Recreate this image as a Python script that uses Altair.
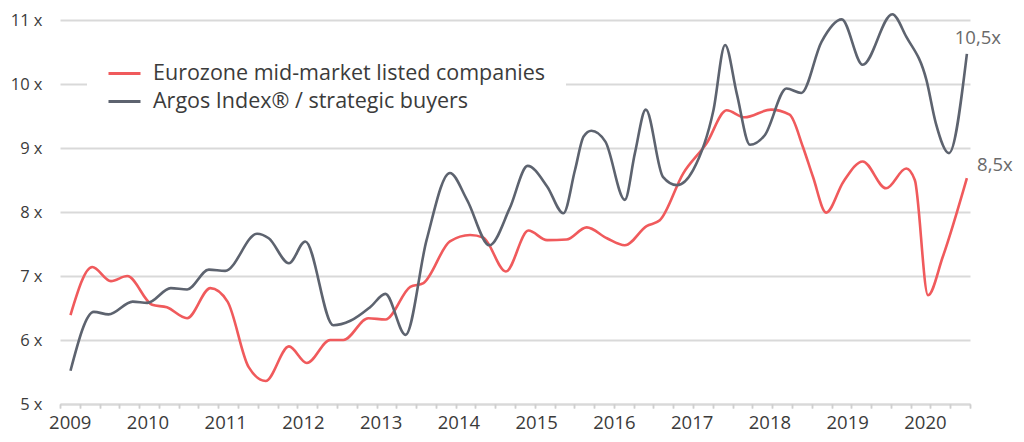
import altair as alt
import pandas as pd
import numpy as np

# ---- data (decimal years, EV/EBITDA multiple) ----
euro_t = [2009.01, 2009.29, 2009.53, 2009.74, 2010.06, 2010.25, 2010.51, 2010.81,
          2011.03, 2011.30, 2011.52, 2011.82, 2012.05, 2012.35, 2012.52, 2012.84,
          2013.06, 2013.38, 2013.55, 2013.89, 2014.15, 2014.32, 2014.61, 2014.90,
          2015.14, 2015.39, 2015.65, 2015.91, 2016.14, 2016.42, 2016.59, 2016.89,
          2017.19, 2017.45, 2017.68, 2018.02, 2018.26, 2018.43, 2018.56, 2018.73,
          2018.95, 2019.20, 2019.50, 2019.76, 2019.87, 2020.04, 2020.23, 2020.54]
euro_v = [6.39, 7.14, 6.92, 7.00, 6.55, 6.51, 6.34, 6.81,
          6.60, 5.58, 5.36, 5.90, 5.64, 6.00, 6.00, 6.34,
          6.32, 6.83, 6.89, 7.54, 7.64, 7.60, 7.07, 7.71,
          7.56, 7.57, 7.76, 7.59, 7.48, 7.78, 7.87, 8.60,
          9.07, 9.59, 9.48, 9.60, 9.52, 9.02, 8.55, 7.99,
          8.47, 8.79, 8.37, 8.68, 8.50, 6.70, 7.30, 8.53]

argos_t = [2009.01, 2009.31, 2009.50, 2009.81, 2010.00, 2010.30, 2010.51, 2010.79,
           2011.00, 2011.41, 2011.56, 2011.82, 2012.03, 2012.39, 2012.61, 2012.87,
           2013.06, 2013.32, 2013.59, 2013.89, 2014.11, 2014.40, 2014.66, 2014.89,
           2015.14, 2015.35, 2015.50, 2015.61, 2015.71, 2015.89, 2016.14, 2016.27,
           2016.41, 2016.63, 2016.81, 2017.02, 2017.28, 2017.43, 2017.58, 2017.75,
           2017.94, 2018.22, 2018.41, 2018.67, 2018.93, 2019.20, 2019.58, 2019.76,
           2020.02, 2020.14, 2020.31, 2020.54]
argos_v = [5.52, 6.44, 6.40, 6.60, 6.58, 6.81, 6.79, 7.10,
           7.08, 7.66, 7.59, 7.20, 7.54, 6.23, 6.30, 6.52,
           6.72, 6.08, 7.56, 8.61, 8.19, 7.48, 8.06, 8.72,
           8.40, 7.98, 8.66, 9.18, 9.27, 9.10, 8.19, 8.92,
           9.60, 8.55, 8.42, 8.66, 9.59, 10.61, 9.85, 9.05,
           9.20, 9.93, 9.86, 10.66, 11.01, 10.30, 11.09, 10.74,
           10.06, 9.39, 8.92, 10.47]

series_names = ["Eurozone mid-market listed companies", "Argos Index\u00ae / strategic buyers"]
series_colors = ["#f05a5c", "#5d636f"]
end_labels = ["8,5x", "10,5x"]
year_labels = list(range(2009, 2021))
y_ticks = [5, 6, 7, 8, 9, 10, 11]

df = pd.concat([
    pd.DataFrame({"t": euro_t, "v": euro_v, "series": series_names[0]}),
    pd.DataFrame({"t": argos_t, "v": argos_v, "series": series_names[1]}),
])

x_lo, x_hi = 2008.875, 2020.58
tick_vals = [float(v) for v in np.linspace(x_lo, x_hi, 47)]

FONT = "Open Sans"
TXT = "#3b3b3b"
GRID = "#d9d9d9"

xscale = alt.Scale(domain=[x_lo, x_hi], nice=False, zero=False)
yscale = alt.Scale(domain=[5, 11], nice=False, zero=False)

y_enc = alt.Y("v:Q", scale=yscale, title=None,
              axis=alt.Axis(values=y_ticks, labelExpr="datum.value + ' x'", grid=True,
                            gridColor=GRID, gridWidth=1.8, domain=False, ticks=False,
                            labelFontSize=16.5, labelColor=TXT, labelFont=FONT,
                            labelPadding=18))

lines = alt.Chart(df).mark_line(interpolate="monotone", strokeWidth=2.6, clip=False).encode(
    x=alt.X("t:Q", scale=xscale, title=None,
            axis=alt.Axis(values=year_labels, format="d", tickSize=0, grid=False,
                          domain=True, domainColor=GRID, domainWidth=2,
                          labelFontSize=18.5, labelColor=TXT, labelFont=FONT,
                          labelPadding=9, labelFlush=False, labelOverlap=False,
                          orient="bottom")),
    y=y_enc,
    color=alt.Color("series:N", scale=alt.Scale(domain=series_names, range=series_colors),
                    legend=alt.Legend(title=None, orient="none", legendX=27, legendY=16,
                                      fillColor="white", padding=20,
                                      symbolType="stroke", symbolSize=1024,
                                      symbolStrokeWidth=3, labelFontSize=21.5,
                                      labelFont=FONT, labelColor=TXT, labelOffset=11,
                                      labelLimit=600, rowPadding=0)),
    order=alt.Order("t:Q"),
)

end_df = pd.DataFrame({
    "t": [euro_t[-1], argos_t[-1]],
    "v": [euro_v[-1], argos_v[-1]],
    "label": end_labels,
})

tick_axis = alt.Axis(values=tick_vals, labels=False, tickSize=4, tickWidth=1.5,
                     tickColor="#cfcfcf", domain=False, grid=False, orient="bottom")

lab_euro = alt.Chart(end_df.iloc[[0]]).mark_text(
    fontSize=18.5, font=FONT, color="#6a6a6a", dx=28, dy=-13, align="center", baseline="middle"
).encode(
    x=alt.X("t:Q", scale=xscale, title=None, axis=tick_axis),
    y=y_enc,
    text="label:N",
)
lab_argos = alt.Chart(end_df.iloc[[1]]).mark_text(
    fontSize=18.5, font=FONT, color="#6a6a6a", dx=11, dy=-16, align="center", baseline="middle"
).encode(
    x=alt.X("t:Q", scale=xscale, title=None, axis=tick_axis),
    y=y_enc,
    text="label:N",
)

chart = alt.layer(lines, lab_euro, lab_argos).resolve_axis(x="independent").properties(
    width=910, height=384,
    autosize=alt.AutoSizeParams(type="none"),
    padding={"left": 52, "top": 12, "right": 46, "bottom": 30},
).configure(font=FONT).configure_view(stroke=None)

chart.save("out.html", embed_options={"renderer": "svg", "actions": False})
